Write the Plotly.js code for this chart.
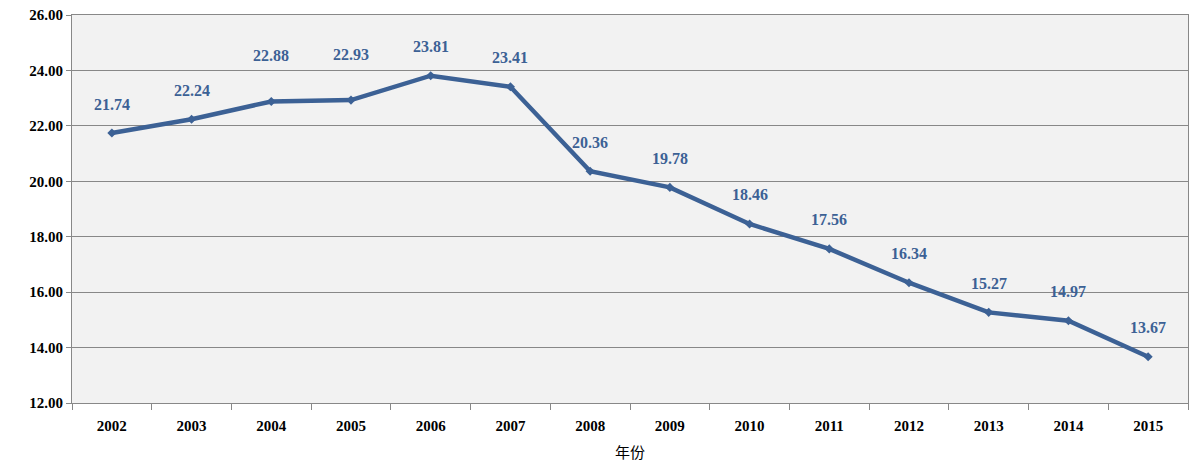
<!DOCTYPE html>
<html>
<head>
<meta charset="utf-8">
<script src="https://cdn.plot.ly/plotly-3.0.1.min.js"></script>
<style>body{margin:0;background:#fff}</style>
</head>
<body>
<div id="chart" style="width:1195px;height:471px"></div>
<script>
const years = ["2002","2003","2004","2005","2006","2007","2008","2009","2010","2011","2012","2013","2014","2015"];
const values = [21.74, 22.24, 22.88, 22.93, 23.81, 23.41, 20.36, 19.78, 18.46, 17.56, 16.34, 15.27, 14.97, 13.67];

const labelFont = { family: 'Liberation Serif, Times New Roman, serif', size: 16, color: '#3c6195', weight: 'bold' };
// labels for 2004/2005 sit higher in the original
const lift = i => (i === 2 || i === 3) ? 46 : 29;

Plotly.newPlot('chart', [{
  x: years,
  y: values,
  type: 'scatter',
  mode: 'lines+markers',
  line: { color: '#3c6195', width: 4.5 },
  marker: { symbol: 'diamond', size: 7, color: '#3c6195' },
  hoverinfo: 'skip'
}], {
  width: 1195, height: 471,
  margin: { l: 72, r: 7, t: 15, b: 68 },
  paper_bgcolor: '#fff',
  plot_bgcolor: '#f2f2f2',
  showlegend: false,
  font: { family: 'Liberation Serif, Times New Roman, serif', color: '#000' },
  annotations: years.map((y, i) => ({
    x: i, y: values[i], text: values[i].toFixed(2), showarrow: false,
    yshift: lift(i), font: labelFont
  })),
  xaxis: {
    type: 'category', range: [-0.5, years.length - 0.5],
    tickson: 'boundaries', ticks: 'outside', ticklen: 6, tickcolor: '#888',
    ticklabelstandoff: 9,
    showgrid: false, showline: true, linecolor: '#888', linewidth: 1, mirror: true,
    tickfont: { size: 15, weight: 'bold' },
    title: { text: '年份', font: { family: 'Noto Sans CJK SC', size: 15 }, standoff: 14 }
  },
  yaxis: {
    range: [12, 26], dtick: 2, tickformat: '.2f',
    gridcolor: '#888', gridwidth: 1, showline: true, linecolor: '#888', mirror: true,
    ticks: 'outside', ticklen: 5, tickcolor: '#888',
    zeroline: false,
    tickfont: { size: 15, weight: 'bold' }
  }
}, { displayModeBar: false });
</script>
</body>
</html>
